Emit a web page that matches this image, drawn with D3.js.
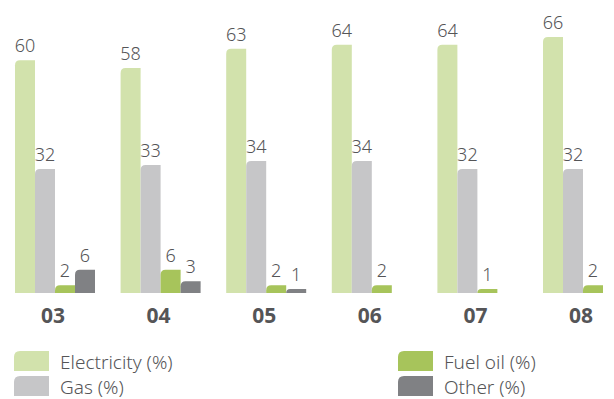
<!DOCTYPE html>
<html>
<head>
<meta charset="utf-8">
<script src="https://cdn.jsdelivr.net/npm/d3@7"></script>
<style>
  html, body { margin: 0; padding: 0; background: #fff; }
  svg { display: block; }
</style>
</head>
<body>
<svg id="chart" width="614" height="399"></svg>
<script>
// Energy mix by year, shares in percent
const years = ["03", "04", "05", "06", "07", "08"];
const seriesNames = ["Electricity (%)", "Gas (%)", "Fuel oil (%)", "Other (%)"];
const electricity = [60, 58, 63, 64, 64, 66];
const gas = [32, 33, 34, 34, 32, 32];
const fuelOil = [2, 6, 2, 2, 1, 2];
const other = [6, 3, 1, 0, 0, 0];
const colors = ["#d2e2ac", "#c6c6c8", "#a7c45b", "#808184"];

const seriesValues = [electricity, gas, fuelOil, other];

const svg = d3.select("#chart");
const baseY = 293;
const font = "'Noto Sans', 'Open Sans', sans-serif";
const textColor = "#555557";

const x0 = d3.scaleBand().domain(years).range([15, 623]).paddingInner(0.2424).paddingOuter(0);
const x1 = d3.scaleBand().domain(d3.range(seriesNames.length)).range([0, x0.bandwidth()]).padding(0);
const y = d3.scaleLinear().domain([0, 66]).range([baseY, baseY - 256]);

// bar outline with only the top-left corner rounded
function barPath(x, top, w, h, r) {
  const rr = Math.min(r, h, w);
  return `M${x},${top + h}V${top + rr}Q${x},${top} ${x + rr},${top}H${x + w}V${top + h}Z`;
}

const groups = svg.selectAll("g.year")
  .data(years)
  .join("g")
  .attr("class", "year")
  .attr("transform", d => `translate(${x0(d)},0)`);

groups.each(function(year, i) {
  const g = d3.select(this);
  const cells = seriesValues.map((vals, s) => ({ s, v: vals[i] })).filter(d => d.v > 0);
  g.selectAll("path.bar")
    .data(cells)
    .join("path")
    .attr("class", "bar")
    .attr("fill", d => colors[d.s])
    .attr("d", d => barPath(x1(d.s), y(d.v), x1.bandwidth(), baseY - y(d.v), 5));
  g.selectAll("text.val")
    .data(cells)
    .join("text")
    .attr("class", "val")
    .attr("x", d => x1(d.s) + x1.bandwidth() / 2)
    .attr("y", d => y(d.v) - 8)
    .attr("text-anchor", "middle")
    .attr("font-family", font)
    .attr("font-weight", 300)
    .attr("font-size", 18)
    .attr("fill", textColor)
    .text(d => d.v);
});

// year labels under each group
svg.append("g")
  .selectAll("text")
  .data(years)
  .join("text")
  .attr("x", d => x0(d) + x0.bandwidth() / 2 - 2)
  .attr("y", 323)
  .attr("text-anchor", "middle")
  .attr("font-family", font)
  .attr("font-weight", "bold")
  .attr("font-size", 21)
  .attr("fill", textColor)
  .text(d => d);

// legend: two columns of two entries
const legendPos = [[14, 351], [14, 376], [398, 351], [398, 376]];
const legend = svg.append("g")
  .selectAll("g")
  .data(seriesNames)
  .join("g")
  .attr("transform", (d, i) => `translate(${legendPos[i][0]},${legendPos[i][1]})`);
legend.append("path")
  .attr("fill", (d, i) => colors[i])
  .attr("d", barPath(0, 0, 35, 20, 6));
legend.append("text")
  .attr("x", 46)
  .attr("y", 18)
  .attr("font-family", font)
  .attr("font-weight", 300)
  .attr("font-size", 19)
  .attr("fill", textColor)
  .text(d => d);
</script>
</body>
</html>
